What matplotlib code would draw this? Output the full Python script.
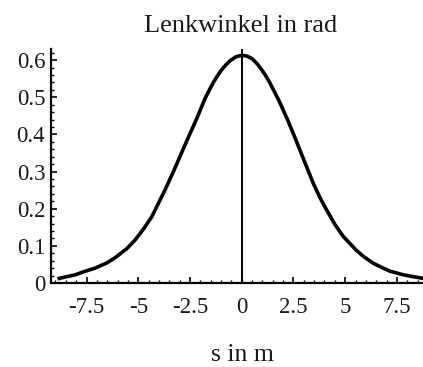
import matplotlib
matplotlib.use("Agg")
import matplotlib.pyplot as plt
from matplotlib.ticker import MultipleLocator, FuncFormatter

# steering angle over path coordinate
s_m = [-8.90, -8.78, -8.05, -7.65, -7.09, -6.52, -6.12, -5.56, -5.15, -4.75,
       -4.35, -3.71, -3.30, -3.01, -2.58, -2.17, -1.77, -1.57, -1.37, -1.17,
       -0.97, -0.77, -0.57, -0.28, 0.0, 0.25, 0.50, 0.75, 0.98, 1.17,
       1.38, 1.58, 1.79, 2.19, 2.59, 3.07, 3.46, 3.78, 4.11, 4.50,
       4.91, 5.56, 5.87, 6.36, 6.84, 7.16, 7.81, 8.70, 9.00]
angle_rad = [0.011, 0.013, 0.022, 0.030, 0.040, 0.054, 0.068, 0.092, 0.116, 0.145,
             0.178, 0.250, 0.300, 0.337, 0.392, 0.443, 0.497, 0.519, 0.540, 0.558,
             0.574, 0.587, 0.598, 0.609, 0.613, 0.611, 0.604, 0.590, 0.573, 0.557,
             0.537, 0.515, 0.492, 0.443, 0.389, 0.322, 0.268, 0.230, 0.196, 0.158,
             0.125, 0.087, 0.072, 0.053, 0.040, 0.032, 0.022, 0.013, 0.011]

x_ticks = [-7.5, -5, -2.5, 0, 2.5, 5, 7.5]
y_ticks = [0, 0.1, 0.2, 0.3, 0.4, 0.5, 0.6]

plt.rcParams['font.family'] = ['Liberation Serif', 'DejaVu Serif']

fig = plt.figure(figsize=(4.23, 3.67), dpi=100)
W, H = 423, 367
ax = fig.add_axes([50.7 / W, 84 / H, 1 - 50.7 / W, (283 - 49) / H])

ax.plot(s_m, angle_rad, color='black', lw=2.6, solid_capstyle='butt',
        solid_joinstyle='round')
ax.axvline(0, color='black', lw=1.4)

ax.set_xlim(-9.23, 8.76)
ax.set_ylim(0, 0.63)

for side in ['top', 'right']:
    ax.spines[side].set_visible(False)
for side in ['left', 'bottom']:
    ax.spines[side].set_linewidth(1.6)

ax.set_xticks(x_ticks)
ax.set_yticks(y_ticks)
ax.xaxis.set_minor_locator(MultipleLocator(0.5))
ax.yaxis.set_minor_locator(MultipleLocator(0.02))

def fmt(v, pos):
    return f"{v:g}"

ax.xaxis.set_major_formatter(FuncFormatter(fmt))
ax.yaxis.set_major_formatter(FuncFormatter(fmt))

ax.tick_params(which='major', direction='in', length=4.5, width=1.2,
               labelsize=16.5, color='black', labelcolor='#1a1a1a')
ax.tick_params(axis='x', which='major', pad=10)
ax.tick_params(axis='y', which='major', pad=4)
ax.tick_params(which='minor', direction='in', length=2.5, width=1.0)

fig.text(241 / W, 1 - 32 / H, 'Lenkwinkel in rad', ha='center', va='baseline',
         fontsize=19, color='#1a1a1a')
fig.text(242 / W, 1 - 361 / H, 's in m', ha='center', va='baseline',
         fontsize=18.5, color='#1a1a1a')

fig.savefig('out.png', dpi=100)
